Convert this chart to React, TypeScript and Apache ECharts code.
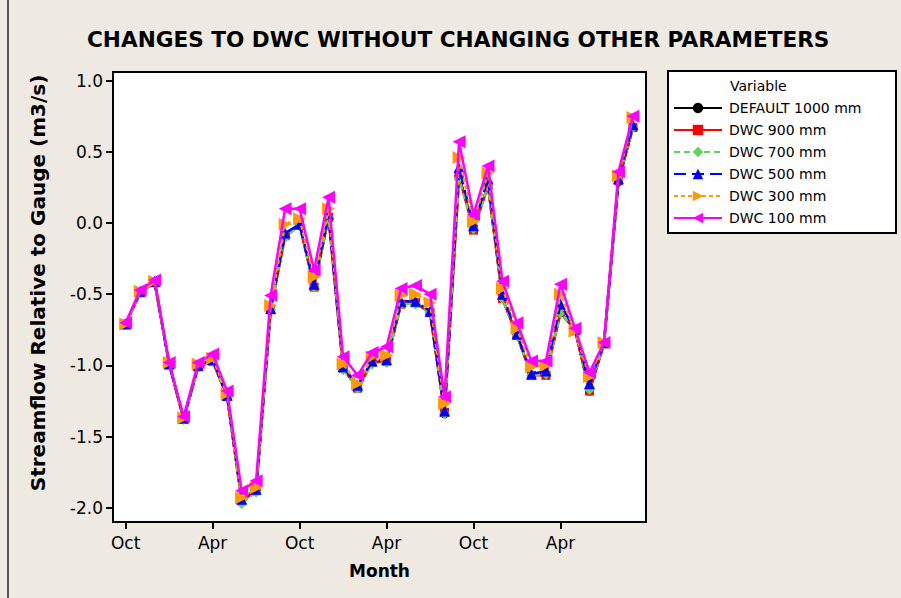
import React, { useEffect, useRef } from "react";
import * as echarts from "echarts";

const monthNames = [
  "Oct", "Nov", "Dec", "Jan", "Feb", "Mar", "Apr", "May", "Jun", "Jul", "Aug", "Sep",
  "Oct", "Nov", "Dec", "Jan", "Feb", "Mar", "Apr", "May", "Jun", "Jul", "Aug", "Sep",
  "Oct", "Nov", "Dec", "Jan", "Feb", "Mar", "Apr", "May", "Jun", "Jul", "Aug", "Sep",
];
const xTickIndices = [0, 6, 12, 18, 24, 30];
const yTickValues = [-2, -1.5, -1, -0.5, 0, 0.5, 1];

const default1000 = [-0.71, -0.49, -0.42, -0.99, -1.38, -1.01, -0.97, -1.22, -1.95, -1.88, -0.61, -0.09, -0.01, -0.45, 0.04, -1.02, -1.16, -0.98, -0.97, -0.57, -0.56, -0.63, -1.34, 0.33, -0.03, 0.26, -0.53, -0.79, -1.07, -1.06, -0.63, -0.75, -1.18, -0.85, 0.29, 0.67];
const dwc900 = [-0.71, -0.49, -0.42, -0.99, -1.38, -1.01, -0.97, -1.22, -1.95, -1.88, -0.61, -0.09, -0.01, -0.45, 0.04, -1.02, -1.16, -0.98, -0.97, -0.57, -0.56, -0.63, -1.33, 0.33, -0.05, 0.26, -0.53, -0.79, -1.07, -1.07, -0.63, -0.75, -1.18, -0.85, 0.30, 0.67];
const dwc700 = [-0.71, -0.49, -0.42, -0.99, -1.38, -1.01, -0.97, -1.22, -1.97, -1.89, -0.61, -0.10, -0.02, -0.45, 0.04, -1.03, -1.16, -0.99, -0.98, -0.57, -0.57, -0.63, -1.34, 0.31, -0.04, 0.26, -0.53, -0.79, -1.07, -1.06, -0.63, -0.75, -1.17, -0.85, 0.30, 0.67];
const dwc500 = [-0.71, -0.48, -0.41, -0.99, -1.37, -1.00, -0.96, -1.21, -1.94, -1.87, -0.60, -0.07, -0.01, -0.43, 0.06, -1.01, -1.14, -0.97, -0.96, -0.55, -0.55, -0.62, -1.32, 0.39, -0.02, 0.31, -0.50, -0.78, -1.06, -1.04, -0.57, -0.75, -1.13, -0.84, 0.31, 0.69];
const dwc300 = [-0.71, -0.48, -0.41, -0.98, -1.37, -0.99, -0.95, -1.20, -1.93, -1.86, -0.58, -0.01, 0.03, -0.38, 0.10, -0.99, -1.13, -0.94, -0.93, -0.51, -0.50, -0.56, -1.27, 0.46, 0.01, 0.35, -0.46, -0.74, -1.01, -1.00, -0.50, -0.76, -1.08, -0.84, 0.33, 0.74];
const dwc100 = [-0.70, -0.47, -0.40, -0.98, -1.36, -0.98, -0.92, -1.18, -1.88, -1.81, -0.51, 0.10, 0.10, -0.33, 0.18, -0.94, -1.07, -0.91, -0.87, -0.46, -0.44, -0.50, -1.22, 0.57, 0.06, 0.40, -0.41, -0.70, -0.97, -0.97, -0.43, -0.74, -1.05, -0.84, 0.36, 0.75];

const seriesNames = ["DEFAULT 1000 mm", "DWC 900 mm", "DWC 700 mm", "DWC 500 mm", "DWC 300 mm", "DWC 100 mm"];
const seriesValues = [default1000, dwc900, dwc700, dwc500, dwc300, dwc100];

const FONT = "DejaVu Sans";

export default function App() {
  const ref = useRef<HTMLDivElement>(null);
  useEffect(() => {
    if (!ref.current) return;
    const chart = echarts.init(ref.current, undefined, { renderer: "svg" });
    const styles = [
      { color: "#000000", symbol: "circle", size: 9, type: "solid" as any },
      { color: "#ff0000", symbol: "rect", size: 9, type: "solid" as any },
      { color: "#5fd35f", symbol: "diamond", size: 11, type: [6, 4] as any },
      { color: "#0000ff", symbol: "triangle", size: 11, type: [12, 6] as any },
      { color: "#ff9900", symbol: "path://M0,0L10,5L0,10Z", size: 13, type: [4, 3] as any },
      { color: "#ff00ff", symbol: "path://M10,0L0,5L10,10Z", size: 13, type: "solid" as any },
    ];
    const series = seriesNames.map((name, k) => ({
      name,
      type: "line",
      data: seriesValues[k].map((v, i) => [i, v]),
      symbol: styles[k].symbol,
      symbolSize: styles[k].size,
      showAllSymbol: true,
      lineStyle: { color: styles[k].color, width: 2.5, type: styles[k].type },
      itemStyle: { color: styles[k].color },
      z: 2 + k,
    }));
    chart.setOption({
      animation: false,
      backgroundColor: "#eeeae1",
      title: {
        text: "CHANGES TO DWC WITHOUT CHANGING OTHER PARAMETERS",
        left: 87,
        top: 28,
        padding: 0,
        textStyle: { fontFamily: FONT, fontWeight: "bold", fontSize: 21.6, color: "#000" },
      },
      grid: {
        left: 113,
        right: 255,
        top: 72,
        bottom: 76,
        show: true,
        backgroundColor: "#ffffff",
        borderColor: "#000",
        borderWidth: 2,
      },
      legend: {
        orient: "vertical",
        left: 673,
        top: 101,
        itemWidth: 48,
        itemHeight: 13,
        itemGap: 8,
        padding: 0,
        data: seriesNames,
        textStyle: { fontFamily: FONT, fontSize: 14, color: "#000", padding: [0, 0, 0, 2] },
      },
      xAxis: {
        type: "value",
        min: -0.875,
        max: 35.9,
        splitLine: { show: false },
        axisLine: { show: true, onZero: false, lineStyle: { color: "#000", width: 2 } },
        axisTick: { show: true, customValues: xTickIndices, length: 7, lineStyle: { color: "#000", width: 2 } },
        axisLabel: {
          customValues: xTickIndices,
          formatter: (v: number) => monthNames[Math.round(v)] ?? "",
          fontFamily: FONT,
          fontSize: 17,
          color: "#000",
          margin: 12,
        },
        name: "Month",
        nameLocation: "middle",
        nameGap: 40,
        nameTextStyle: { fontFamily: FONT, fontWeight: "bold", fontSize: 17, color: "#000" },
      },
      yAxis: {
        type: "value",
        min: -2.1,
        max: 1.06,
        splitLine: { show: false },
        axisLine: { show: true, onZero: false, lineStyle: { color: "#000", width: 2 } },
        axisTick: { show: true, customValues: yTickValues, length: 7, lineStyle: { color: "#000", width: 2 } },
        axisLabel: {
          customValues: yTickValues,
          formatter: (v: number) => v.toFixed(1),
          fontFamily: FONT,
          fontSize: 17,
          color: "#000",
          margin: 10,
        },
      },
      graphic: [
        { type: "line", shape: { x1: 8, y1: 0, x2: 8, y2: 598 }, style: { stroke: "#555", lineWidth: 2 } },
        {
          type: "rect",
          shape: { x: 668, y: 71, width: 228, height: 162 },
          style: { fill: "#ffffff", stroke: "#000", lineWidth: 2 },
          z: -1,
        },
        {
          type: "text",
          x: 730,
          y: 86,
          style: { text: "Variable", fontFamily: FONT, fontSize: 14, fill: "#000", verticalAlign: "middle" },
        },
        {
          type: "text",
          x: 38,
          y: 283,
          rotation: Math.PI / 2,
          style: {
            text: "Streamflow Relative to Gauge (m3/s)",
            fontFamily: FONT,
            fontWeight: "bold",
            fontSize: 20,
            fill: "#000",
            align: "center",
            verticalAlign: "middle",
          },
        },
      ],
      series,
    });
    return () => chart.dispose();
  }, []);
  return <div ref={ref} style={{ width: 901, height: 598, position: "absolute", left: 0, top: 0 }} />;
}
